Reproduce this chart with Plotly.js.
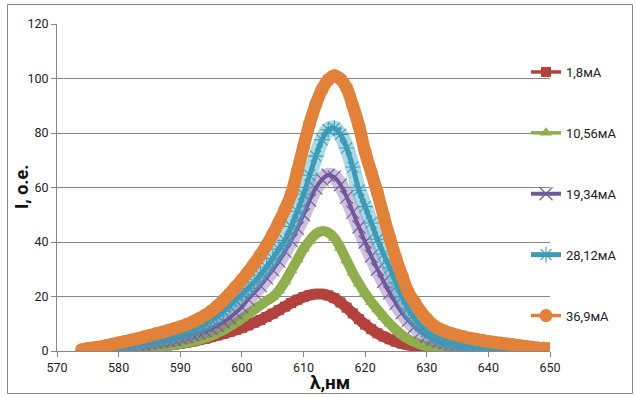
<!DOCTYPE html>
<html>
<head>
<meta charset="utf-8">
<script src="https://cdn.plot.ly/plotly-3.0.1.min.js"></script>
<style>
html,body{margin:0;padding:0;background:#fff;}
#chart{width:636px;height:397px;}
</style>
</head>
<body>
<div id="chart"></div>
<script>
// wavelength grid, nm
var wavelength = [574,575,576,577,578,579,580,581,582,583,
  584,585,586,587,588,589,590,591,592,593,
  594,595,596,597,598,599,600,601,602,603,
  604,605,606,607,608,609,610,611,612,613,
  614,615,616,617,618,619,620,621,622,623,
  624,625,626,627,628,629,630,631,632,633,
  634,635,636,637,638,639,640,641,642,643,
  644,645,646,647,648,649,650];

var seriesNames = ["1,8мА","10,56мА","19,34мА","28,12мА","36,9мА"];

var i_1_8 = [null,null,0.1,0.2,0.3,0.4,0.5,0.7,0.9,1.1,
  1.3,1.5,1.7,1.9,2.1,2.4,2.7,3.1,3.5,4.0,
  4.5,5.1,5.7,6.3,7.0,7.7,8.5,9.4,10.4,11.4,
  12.5,13.7,15.0,16.3,17.6,18.8,19.8,20.5,20.9,20.9,
  20.4,19.4,17.8,15.9,13.8,11.7,9.7,8.0,6.5,5.3,
  4.3,3.4,2.7,2.2,1.8,1.5,1.2,1.0,0.9,0.8,
  0.7,0.6,0.5,0.5,0.4,0.4,0.3,0.3,0.3,0.3,
  0.2,0.2,0.2,0.2,0.2,0.2,0.2];

var i_10_56 = [null,null,0.2,0.3,0.4,0.5,0.6,0.7,0.8,1.0,
  1.2,1.4,1.6,1.8,2.0,2.3,2.6,3.0,3.5,4.1,
  4.8,5.6,6.6,7.7,9.0,10.4,12.0,13.6,15.2,16.8,
  18.4,19.8,22.2,25.5,29.5,33.5,37.5,40.5,43.0,44.0,
  43.5,41.5,37.8,33.2,28.7,24.7,21.2,18.0,15.2,12.5,
  10.0,7.8,5.9,4.4,3.3,2.4,1.8,1.4,1.1,0.9,
  0.8,0.7,0.6,0.5,0.5,0.4,0.4,0.3,0.3,0.3,
  0.3,0.2,0.2,0.2,0.2,0.2,0.2];

var i_19_34 = [null,0.2,0.4,0.6,0.8,1.1,1.4,1.7,2.0,2.3,
  2.6,2.9,3.2,3.5,3.9,4.3,4.8,5.3,5.9,6.6,
  7.4,8.3,9.4,10.7,12.2,14.0,16.2,19.0,21.4,24.0,
  26.8,29.8,33.0,36.6,40.5,45.0,50.0,55.3,59.8,63.0,
  64.5,63.8,61.0,56.5,51.0,45.5,40.0,34.8,30.0,25.5,
  21.3,17.5,14.0,11.2,8.9,7.0,5.5,4.4,3.6,3.0,
  2.6,2.2,1.9,1.7,1.5,1.3,1.1,1.0,0.9,0.8,
  0.7,0.6,0.6,0.5,0.5,0.4,0.4];

var i_28_12 = [null,0.3,0.5,0.8,1.1,1.5,1.9,2.3,2.7,3.1,
  3.5,3.9,4.3,4.8,5.3,5.8,6.4,7.1,7.9,8.9,
  10.0,11.3,12.8,14.6,16.6,18.8,20.8,23.0,25.3,27.9,
  30.8,34.0,37.4,40.6,45.7,51.3,57.5,64.5,71.5,77.5,
  81.2,81.8,79.5,74.5,67.5,59.0,53.0,47.0,41.0,35.5,
  30.5,25.0,19.8,15.5,12.0,9.2,7.0,5.5,4.5,3.8,
  3.2,2.8,2.4,2.1,1.8,1.5,1.3,1.2,1.1,1.0,
  0.9,0.8,0.7,0.7,0.6,0.6,0.5];

var i_36_9 = [0.5,0.9,1.2,1.5,2.0,2.5,3.0,3.5,4.0,4.5,
  5.1,5.7,6.3,6.9,7.5,8.2,8.9,9.7,10.7,11.8,
  13.1,14.6,16.5,18.6,21.0,23.5,26.2,29.0,32.0,35.2,
  38.8,42.8,47.2,52.0,57.5,66.0,75.0,83.5,90.5,96.0,
  99.5,101.0,99.8,96.5,90.0,82.5,73.0,65.5,58.0,49.5,
  41.5,34.0,27.5,21.5,18.0,14.5,11.8,9.6,8.2,7.2,
  6.4,5.8,5.2,4.7,4.3,3.9,3.5,3.2,2.9,2.6,
  2.3,2.0,1.7,1.4,1.1,0.9,0.7];

var xTicks = [570,580,590,600,610,620,630,640,650];
var yTicks = [0,20,40,60,80,100,120];

var seriesValues = [i_1_8, i_10_56, i_19_34, i_28_12, i_36_9];
var styles = [
  {color:'#B3423F', bandColor:'#B3423F', band:11, core:3.5, symbol:'square', size:10, mline:0},
  {color:'#8FAE4E', bandColor:'#8FAE4E', band:10, core:3.5, symbol:'triangle-up', size:11, mline:0},
  {color:'#72589B', bandColor:'rgba(128,100,170,0.40)', band:15, core:4, symbol:'x-thin-open', size:13, mline:1.1},
  {color:'#3F9BB5', bandColor:'rgba(75,172,198,0.45)', band:15, core:5, symbol:'asterisk-open', size:13, mline:1.1},
  {color:'#E2823A', bandColor:'#E2823A', band:12.5, core:3.5, symbol:'circle', size:13, mline:0}
];

var traces = [];
for (var k = 0; k < seriesValues.length; k++) {
  var s = styles[k];
  traces.push({
    x: wavelength, y: seriesValues[k], type:'scatter', mode:'lines',
    line:{color:s.bandColor, width:s.band, shape:'spline'},
    legendgroup:'g'+k, showlegend:false, hoverinfo:'skip'
  });
  traces.push({
    x: wavelength, y: seriesValues[k], type:'scatter', mode:'lines+markers',
    name: seriesNames[k], legendgroup:'g'+k,
    line:{color:s.color, width:s.core, shape:'spline'},
    marker:{symbol:s.symbol, size:s.size, color:s.color,
            line:{color:s.color, width:s.mline}}
  });
}

function px2x(p){ return (p-57)/493; }
function py2y(p){ return (351-p)/327; }

var layout = {
  width:636, height:397,
  margin:{l:57, r:86, t:24, b:46},
  paper_bgcolor:'#fff', plot_bgcolor:'#fff',
  font:{family:'Roboto, "Open Sans", Arial, sans-serif', size:12.5, color:'#222'},
  showlegend:true,
  legend:{x:px2x(526), y:py2y(57), xanchor:'left', yanchor:'top',
          traceorder:'grouped', tracegroupgap:41, font:{size:13, color:'#222'},
          bgcolor:'rgba(0,0,0,0)', itemwidth:30},
  xaxis:{range:[570,650], tickvals:xTicks, ticktext:xTicks.map(String),
         ticks:'outside', ticklen:5, tickcolor:'#868686', showline:true,
         linecolor:'#868686', linewidth:1, showgrid:false, zeroline:false,
         fixedrange:true},
  yaxis:{range:[0,120], tickvals:yTicks, ticktext:yTicks.map(String),
         ticks:'outside', ticklen:5, tickcolor:'#868686', showline:true,
         linecolor:'#868686', linewidth:1, showgrid:true, gridcolor:'#868686',
         gridwidth:1, zeroline:false, fixedrange:true},
  annotations:[
    {text:'<b>λ,нм</b>', xref:'paper', yref:'paper', x:px2x(330), y:py2y(382),
     showarrow:false, font:{size:19, color:'#111'}, xanchor:'center', yanchor:'middle'},
    {text:'<b>I, о.е.</b>', xref:'paper', yref:'paper', x:px2x(21), y:py2y(187),
     showarrow:false, textangle:-90, font:{size:18, color:'#111'}, xanchor:'center', yanchor:'middle'}
  ],
  shapes:[
    {type:'rect', xref:'paper', yref:'paper', x0:px2x(7.5), x1:px2x(632.5),
     y0:py2y(393.5), y1:py2y(4.5), line:{color:'#868686', width:1}, fillcolor:'rgba(0,0,0,0)', layer:'below'}
  ]
};

Plotly.newPlot('chart', traces, layout, {displayModeBar:false, staticPlot:true});
</script>
</body>
</html>
